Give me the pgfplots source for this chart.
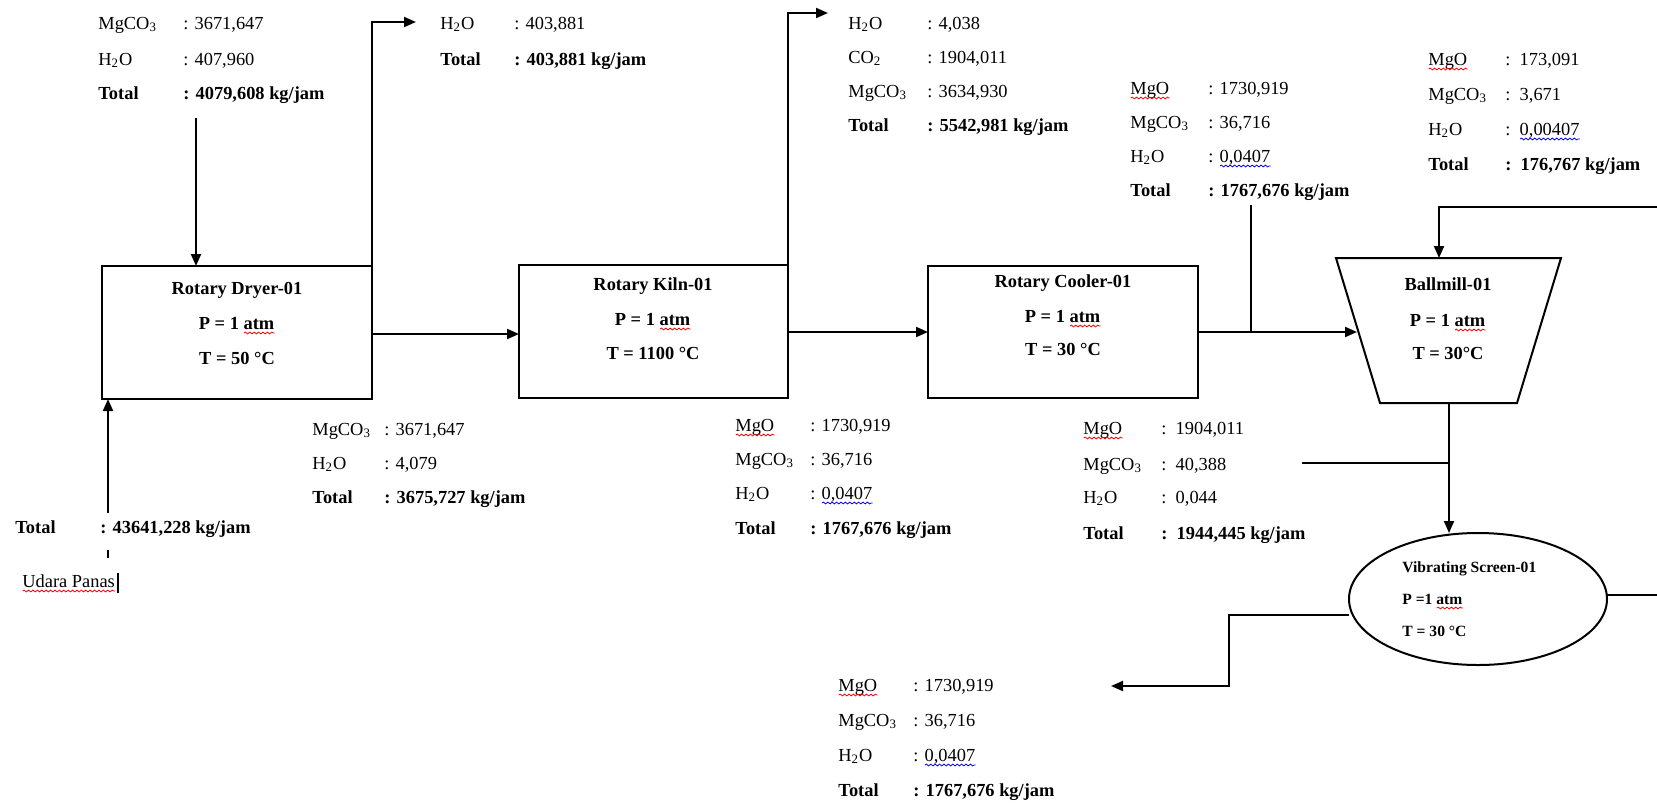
\documentclass[border=0pt]{standalone}
\usepackage{pgfplots}
\pgfplotsset{compat=1.18}
\usetikzlibrary{arrows.meta,decorations.pathmorphing}
\usepackage{fontspec}
\setmainfont{Liberation Serif}
\newsavebox\wbox
\newcommand\wave[2]{\sbox\wbox{#2}\makebox[0pt][l]{\usebox\wbox}\tikz[baseline=0pt]\draw[#1,line width=0.4bp,decorate,decoration={snake,amplitude=0.45bp,segment length=2.2bp}] (0,-1.7bp) -- (\the\wd\wbox,-1.7bp);}
\newcommand\redwave[1]{\wave{red}{#1}}
\newcommand\bluewave[1]{\wave{blue}{#1}}
\newcommand\fsmain{\fontsize{9.2bp}{11bp}\selectfont}
\newcommand\fssmall{\fontsize{7.8bp}{9bp}\selectfont}
\newcommand\T[3]{\node[tx] at (axis cs:#1,#2) {#3};}
\newcommand\C[3]{\node[cx] at (axis cs:#1,#2) {#3};}
\newcommand\Ts[3]{\node[tx,font=\fssmall] at (axis cs:#1,#2) {#3};}
\newcommand\sub[1]{\textsubscript{#1}}
\begin{document}
\begin{tikzpicture}[
  tx/.style={anchor=west, inner sep=0pt, font=\fsmain, text height=6.4bp, text depth=1.8bp},
  cx/.style={anchor=center, inner sep=0pt, font=\fsmain, text height=6.4bp, text depth=1.8bp},
  ar/.style={-{Triangle[length=6bp,width=5bp]}}]
\begin{axis}[scale only axis, width=828.5bp, height=401.5bp,
  xmin=0, xmax=1657, ymin=0, ymax=803, y dir=reverse,
  hide axis, clip=false, no markers,
  every axis plot/.append style={line width=1bp, black, solid}]

% ---- feed ----
\T{98}{25}{MgCO\sub{3}} \T{183}{25}{: 3671,647}
\T{98}{61}{H\sub{2}O} \T{183}{61}{: 407,960}
\T{98}{95}{\textbf{Total}} \T{183}{95}{\textbf{: 4079,608 kg/jam}}
\addplot[black,ar] coordinates {(196,118) (196,266)};

% ---- rotary dryer ----
\addplot[black] coordinates {(102,266) (372,266) (372,399) (102,399)} -- cycle;
\C{237}{290}{\textbf{Rotary Dryer-01}}
\C{237}{325}{\textbf{P = 1 \redwave{atm}}}
\C{237}{360}{\textbf{T = 50 °C}}
\addplot[black,ar] coordinates {(372,266) (372,22) (416,22)};
\T{440}{25}{H\sub{2}O} \T{514}{25}{: 403,881}
\T{440}{61}{\textbf{Total}} \T{514}{61}{\textbf{: 403,881 kg/jam}}
\addplot[black,ar] coordinates {(372,334) (519,334)};
\T{312}{431}{MgCO\sub{3}} \T{384}{431}{: 3671,647}
\T{312}{465}{H\sub{2}O} \T{384}{465}{: 4,079}
\T{312}{499}{\textbf{Total}} \T{384}{499}{\textbf{: 3675,727 kg/jam}}

% ---- air ----
\addplot[black,ar] coordinates {(108,513) (108,399)};
\T{15}{529}{\textbf{Total}} \T{100}{529}{\textbf{: 43641,228 kg/jam}}
\addplot[black,line width=0.8bp] coordinates {(108,550) (108,558)};
\T{22}{583}{\redwave{Udara Panas}}
\addplot[black,line width=0.6bp] coordinates {(118,573) (118,593)};

% ---- rotary kiln ----
\addplot[black] coordinates {(519,265) (788,265) (788,398) (519,398)} -- cycle;
\C{653}{286}{\textbf{Rotary Kiln-01}}
\C{653}{321}{\textbf{P = 1 \redwave{atm}}}
\C{653}{355}{\textbf{T = 1100 °C}}
\addplot[black,ar] coordinates {(788,265) (788,13) (828,13)};
\T{848}{25}{H\sub{2}O} \T{927}{25}{: 4,038}
\T{848}{59}{CO\sub{2}} \T{927}{59}{: 1904,011}
\T{848}{93}{MgCO\sub{3}} \T{927}{93}{: 3634,930}
\T{848}{127}{\textbf{Total}} \T{927}{127}{\textbf{: 5542,981 kg/jam}}
\addplot[black,ar] coordinates {(788,332) (928,332)};
\T{735}{427}{\redwave{MgO}} \T{810}{427}{: 1730,919}
\T{735}{461}{MgCO\sub{3}} \T{810}{461}{: 36,716}
\T{735}{495}{H\sub{2}O} \T{810}{495}{: \bluewave{0,0407}}
\T{735}{530}{\textbf{Total}} \T{810}{530}{\textbf{: 1767,676 kg/jam}}

% ---- rotary cooler ----
\addplot[black] coordinates {(928,266) (1198,266) (1198,398) (928,398)} -- cycle;
\C{1063}{283}{\textbf{Rotary Cooler-01}}
\C{1063}{318}{\textbf{P = 1 \redwave{atm}}}
\C{1063}{351}{\textbf{T = 30 °C}}
\addplot[black,ar] coordinates {(1198,332) (1357,332)};
\addplot[black] coordinates {(1251,205) (1251,332)};
\T{1130}{90}{\redwave{MgO}} \T{1208}{90}{: 1730,919}
\T{1130}{124}{MgCO\sub{3}} \T{1208}{124}{: 36,716}
\T{1130}{158}{H\sub{2}O} \T{1208}{158}{: \bluewave{0,0407}}
\T{1130}{192}{\textbf{Total}} \T{1208}{192}{\textbf{: 1767,676 kg/jam}}
\T{1083}{430}{\redwave{MgO}} \T{1161}{430}{:\ \ 1904,011}
\T{1083}{466}{MgCO\sub{3}} \T{1161}{466}{:\ \ 40,388}
\T{1083}{499}{H\sub{2}O} \T{1161}{499}{:\ \ 0,044}
\T{1083}{535}{\textbf{Total}} \T{1161}{535}{\textbf{:\ \ 1944,445 kg/jam}}

% ---- ballmill ----
\addplot[black] coordinates {(1336,258) (1561,258) (1517,403) (1380,403)} -- cycle;
\C{1448}{286}{\textbf{Ballmill-01}}
\C{1448}{322}{\textbf{P = 1 \redwave{atm}}}
\C{1448}{355}{\textbf{T = 30°C}}
\addplot[black,ar] coordinates {(1657,207) (1439,207) (1439,258)};
\T{1428}{61}{\redwave{MgO}} \T{1505}{61}{:\ \ 173,091}
\T{1428}{96}{MgCO\sub{3}} \T{1505}{96}{:\ \ 3,671}
\T{1428}{131}{H\sub{2}O} \T{1505}{131}{:\ \ \bluewave{0,00407}}
\T{1428}{166}{\textbf{Total}} \T{1505}{166}{\textbf{:\ \ 176,767 kg/jam}}
\addplot[black,ar] coordinates {(1449,403) (1449,533)};
\addplot[black] coordinates {(1302,463) (1449,463)};

% ---- vibrating screen ----
\draw[line width=1bp] (axis cs:1478,599) ellipse [x radius=129, y radius=66];
\Ts{1402}{568}{\textbf{Vibrating Screen-01}}
\Ts{1402}{600}{\textbf{P =1 \redwave{atm}}}
\Ts{1402}{632}{\textbf{T = 30 °C}}
\addplot[black] coordinates {(1607,595) (1657,595)};
\addplot[black,ar] coordinates {(1349,615) (1229,615) (1229,686) (1111,686)};
\T{838}{687}{\redwave{MgO}} \T{913}{687}{: 1730,919}
\T{838}{722}{MgCO\sub{3}} \T{913}{722}{: 36,716}
\T{838}{757}{H\sub{2}O} \T{913}{757}{: \bluewave{0,0407}}
\T{838}{792}{\textbf{Total}} \T{913}{792}{\textbf{: 1767,676 kg/jam}}
\end{axis}
\pgfresetboundingbox
\path (current axis.south west) rectangle (current axis.north east);
\end{tikzpicture}
\end{document}
